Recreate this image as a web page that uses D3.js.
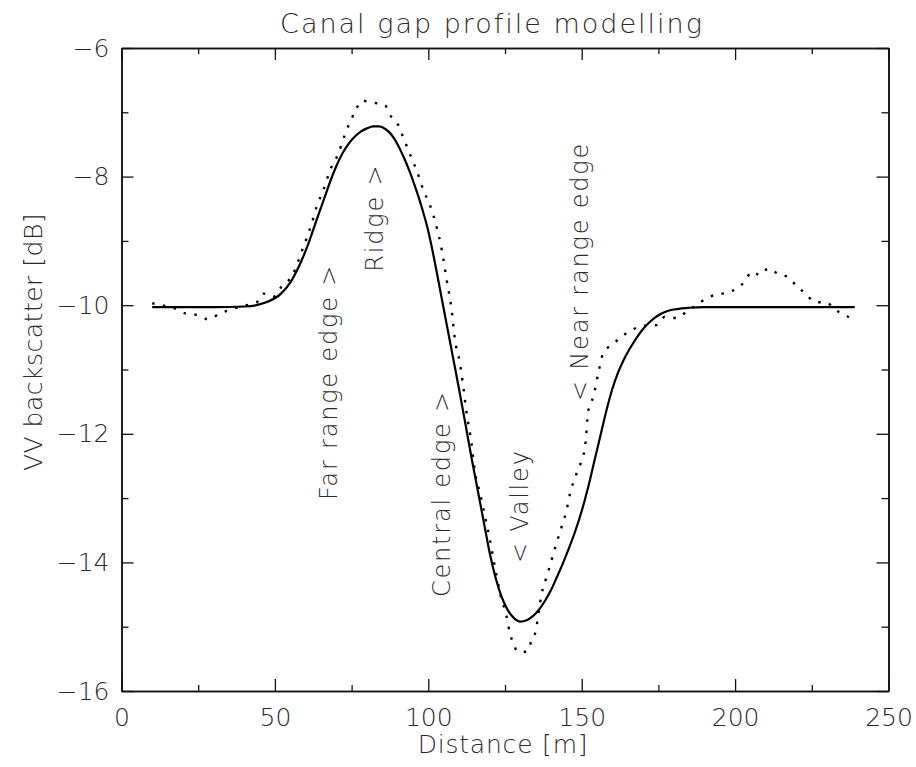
<!DOCTYPE html>
<html>
<head>
<meta charset="utf-8">
<script src="https://cdn.jsdelivr.net/npm/d3@7"></script>
<style>
  html, body { margin: 0; padding: 0; background: #fff; }
  svg { display: block; }
  text { font-family: "DejaVu Sans", "Liberation Sans", sans-serif; font-weight: 200; fill: #2a2a2a; }
</style>
</head>
<body>
<svg id="chart" width="916" height="767"></svg>
<script>
// Modelled profile (solid line): distance [m] and VV backscatter [dB]
const modelDistance = [10, 20, 30, 40, 44, 48, 52, 55, 58, 61, 64, 66, 68, 70, 72, 74, 76, 78, 80, 82, 84, 86, 88, 90, 92, 94, 96, 98, 100, 102, 104, 106, 108, 110, 112, 114, 116, 118, 120, 122, 124, 126, 128, 130, 132, 134, 136, 138, 140, 142, 144, 146, 148, 150, 152, 154, 156, 158, 160, 162, 164, 166, 168, 170, 172, 174, 176, 178, 181, 185, 190, 200, 220, 239];
const modelBackscatter = [-10.03, -10.03, -10.03, -10.02, -10.0, -9.94, -9.82, -9.65, -9.38, -9.03, -8.62, -8.35, -8.08, -7.84, -7.64, -7.49, -7.38, -7.3, -7.25, -7.22, -7.22, -7.26, -7.35, -7.5, -7.7, -7.93, -8.2, -8.5, -8.85, -9.3, -9.8, -10.3, -10.8, -11.3, -11.82, -12.35, -12.85, -13.35, -13.85, -14.25, -14.55, -14.75, -14.87, -14.92, -14.9, -14.84, -14.74, -14.6, -14.43, -14.22, -14.0, -13.76, -13.5, -13.2, -12.85, -12.45, -12.05, -11.65, -11.3, -11.03, -10.82, -10.65, -10.5, -10.37, -10.27, -10.19, -10.13, -10.09, -10.06, -10.04, -10.03, -10.03, -10.03, -10.03];

// Measured profile (dotted line)
const measDistance = [10, 14, 18, 21, 24.5, 28.3, 32, 35.5, 39.7, 44, 46.2, 49.4, 52.2, 55.5, 59.3, 62, 63.6, 65.8, 68, 70.7, 72.8, 74.5, 76.1, 78.3, 82.1, 85.9, 87.5, 90.2, 91.9, 94.6, 96.2, 98.4, 100.6, 102.7, 104.4, 106, 107.6, 108.7, 110.3, 111.4, 112.5, 114.1, 115.1, 116.9, 118.5, 120.1, 121.7, 123.4, 125.5, 126.6, 127.7, 129.3, 132.1, 133.7, 135.1, 135.9, 137, 138.6, 140.2, 141.8, 143.5, 145.1, 146.2, 148.4, 150, 151.1, 152.2, 153.8, 155.4, 157, 160.3, 163, 166.5, 170.3, 174.4, 177.1, 181, 184.2, 190.2, 194, 197.3, 200.5, 203.2, 205.4, 208.1, 210.8, 214.6, 217.3, 220.1, 222.8, 226, 229.9, 232.6, 235.8, 238.5];
const measBackscatter = [-9.97, -10.01, -10.06, -10.13, -10.15, -10.22, -10.13, -10.07, -10.01, -9.96, -9.82, -9.87, -9.71, -9.55, -9.09, -8.73, -8.47, -8.21, -7.9, -7.64, -7.35, -7.15, -6.99, -6.82, -6.85, -6.89, -7.04, -7.2, -7.4, -7.72, -7.9, -8.21, -8.45, -8.78, -9.14, -9.61, -10.07, -10.54, -10.9, -11.27, -11.68, -12.15, -12.56, -12.93, -13.29, -13.65, -14.07, -14.48, -14.84, -15.1, -15.26, -15.39, -15.39, -15.21, -15.05, -14.79, -14.48, -14.22, -13.96, -13.7, -13.44, -13.18, -12.93, -12.61, -12.41, -12.2, -11.63, -11.42, -11.06, -10.75, -10.6, -10.49, -10.38, -10.32, -10.31, -10.18, -10.2, -10.1, -9.91, -9.83, -9.81, -9.74, -9.63, -9.48, -9.53, -9.43, -9.53, -9.56, -9.71, -9.81, -9.95, -9.96, -10.07, -10.15, -10.23];

// Axis ticks
const xMajorTicks = [0, 50, 100, 150, 200, 250];
const xMinorTicks = [25, 75, 125, 175, 225];
const yMajorTicks = [-16, -14, -12, -10, -8, -6];
const yMinorTicks = [-15, -13, -11, -9, -7];

// Feature annotations, anchored in data coordinates
const annotationText = ["Far range edge >", "Ridge >", "Central edge >", "< Valley", "< Near range edge"];
const annotationDistance = [70.2, 85.2, 107.1, 132.5, 152.1];
const annotationBackscatter = [-13.03, -9.48, -14.54, -14.01, -11.49];

const titleText = "Canal gap profile modelling";
const xLabel = "Distance [m]";
const yLabel = "VV backscatter [dB]";

const svg = d3.select("#chart");
const plotLeft = 121.5, plotRight = 888.5, plotTop = 48, plotBottom = 691;

const x = d3.scaleLinear().domain([0, 250]).range([plotLeft, plotRight]);
const y = d3.scaleLinear().domain([-16, -6]).range([plotBottom, plotTop]);

const fmt = d => d3.format("d")(d);

function styleAxis(g) {
  g.select(".domain").attr("stroke", "#111").attr("stroke-width", 1.5);
  g.selectAll(".tick line").attr("stroke", "#111").attr("stroke-width", 1.3);
  g.selectAll("text").attr("font-size", 25).attr("fill", "#2a2a2a")
    .attr("font-family", "DejaVu Sans, sans-serif").attr("font-weight", 200);
}

// Bottom axis with labels
svg.append("g").attr("transform", `translate(0,${plotBottom})`)
  .call(d3.axisBottom(x).tickValues(xMajorTicks).tickSize(-12).tickSizeOuter(0).tickPadding(17).tickFormat(fmt))
  .call(styleAxis);
svg.append("g").attr("transform", `translate(0,${plotBottom})`)
  .call(d3.axisBottom(x).tickValues(xMinorTicks).tickSize(-6).tickSizeOuter(0).tickFormat(""))
  .call(styleAxis);
// Top axis
svg.append("g").attr("transform", `translate(0,${plotTop})`)
  .call(d3.axisTop(x).tickValues(xMajorTicks).tickSize(-12).tickSizeOuter(0).tickFormat(""))
  .call(styleAxis);
svg.append("g").attr("transform", `translate(0,${plotTop})`)
  .call(d3.axisTop(x).tickValues(xMinorTicks).tickSize(-6).tickSizeOuter(0).tickFormat(""))
  .call(styleAxis);
// Left axis with labels
svg.append("g").attr("transform", `translate(${plotLeft},0)`)
  .call(d3.axisLeft(y).tickValues(yMajorTicks).tickSize(-12).tickSizeOuter(0).tickPadding(12).tickFormat(fmt))
  .call(styleAxis);
svg.append("g").attr("transform", `translate(${plotLeft},0)`)
  .call(d3.axisLeft(y).tickValues(yMinorTicks).tickSize(-7).tickSizeOuter(0).tickFormat(""))
  .call(styleAxis);
// Right axis
svg.append("g").attr("transform", `translate(${plotRight},0)`)
  .call(d3.axisRight(y).tickValues(yMajorTicks).tickSize(-12).tickSizeOuter(0).tickFormat(""))
  .call(styleAxis);
svg.append("g").attr("transform", `translate(${plotRight},0)`)
  .call(d3.axisRight(y).tickValues(yMinorTicks).tickSize(-7).tickSizeOuter(0).tickFormat(""))
  .call(styleAxis);

// Curves
const model = modelDistance.map((d, i) => [d, modelBackscatter[i]]);
const meas = measDistance.map((d, i) => [d, measBackscatter[i]]);

svg.append("path").datum(model)
  .attr("fill", "none").attr("stroke", "#000").attr("stroke-width", 2.2)
  .attr("d", d3.line().x(d => x(d[0])).y(d => y(d[1])).curve(d3.curveMonotoneX));

svg.append("path").datum(meas)
  .attr("fill", "none").attr("stroke", "#000").attr("stroke-width", 2.4)
  .attr("stroke-dasharray", "2.5,8.5")
  .attr("d", d3.line().x(d => x(d[0])).y(d => y(d[1])).curve(d3.curveMonotoneX));

// Annotations, reading upward
svg.append("g").selectAll("text")
  .data(annotationText)
  .join("text")
  .attr("transform", (d, i) => `translate(${x(annotationDistance[i])},${y(annotationBackscatter[i])}) rotate(-90)`)
  .attr("font-size", 24)
  .attr("letter-spacing", 1.8)
  .text(d => d);

// Title and axis labels
svg.append("text").attr("x", 492).attr("y", 33).attr("text-anchor", "middle")
  .attr("font-size", 27).attr("letter-spacing", 2).text(titleText);
svg.append("text").attr("x", 503).attr("y", 753).attr("text-anchor", "middle")
  .attr("font-size", 25).attr("letter-spacing", 0.8).text(xLabel);
svg.append("text").attr("transform", `translate(42,342) rotate(-90)`).attr("text-anchor", "middle")
  .attr("font-size", 25).attr("letter-spacing", 0.5).text(yLabel);
</script>
</body>
</html>
